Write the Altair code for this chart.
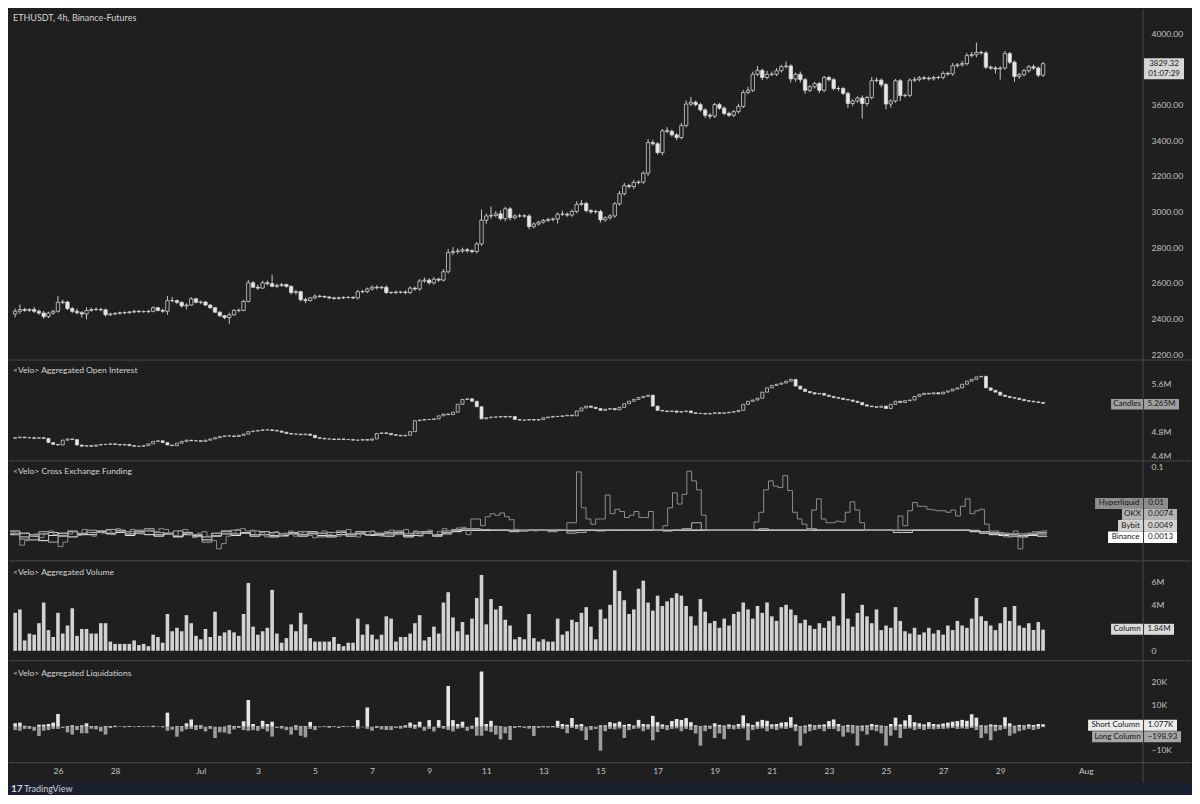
import altair as alt
import pandas as pd

# ---------------- data (4h bars) ----------------
bar_start = "2025-06-24 12:00"

price_first_open = 2425
price_close = [
    2440, 2450, 2445, 2450, 2440, 2430, 2410, 2430, 2440, 2490,
    2492, 2455, 2440, 2432, 2425, 2445, 2450, 2450, 2448, 2420,
    2425, 2428, 2432, 2432, 2436, 2440, 2438, 2438, 2440, 2460,
    2445, 2440, 2500, 2500, 2490, 2470, 2475, 2510, 2490, 2492,
    2475, 2460, 2435, 2415, 2405, 2420, 2445, 2445, 2495, 2600,
    2575, 2570, 2600, 2595, 2580, 2585, 2590, 2580, 2545, 2550,
    2505, 2500, 2515, 2525, 2523, 2520, 2515, 2512, 2515, 2518,
    2518, 2515, 2550, 2550, 2565, 2575, 2572, 2575, 2545, 2545,
    2548, 2548, 2545, 2570, 2565, 2610, 2615, 2600, 2620, 2615,
    2662, 2770, 2775, 2778, 2785, 2780, 2775, 2818, 2951, 2975,
    2978, 2987, 2960, 3015, 2965, 2975, 2975, 2975, 2915, 2930,
    2940, 2950, 2955, 2958, 2985, 2985, 2980, 3000, 3040, 3045,
    3005, 2998, 3000, 2953, 2965, 2975, 3043, 3100, 3145, 3140,
    3163, 3165, 3215, 3387, 3380, 3330, 3453, 3450, 3430, 3415,
    3482, 3603, 3613, 3600, 3570, 3540, 3535, 3600, 3580, 3550,
    3540, 3560, 3590, 3668, 3680, 3770, 3792, 3752, 3770, 3770,
    3790, 3813, 3817, 3744, 3770, 3740, 3680, 3700, 3718, 3680,
    3752, 3740, 3690, 3690, 3663, 3606, 3620, 3637, 3606, 3640,
    3734, 3737, 3712, 3603, 3620, 3734, 3650, 3652, 3737, 3740,
    3750, 3748, 3745, 3752, 3752, 3775, 3772, 3818, 3823, 3830,
    3875, 3880, 3893, 3890, 3810, 3805, 3800, 3805, 3886, 3838,
    3758, 3768, 3790, 3812, 3805, 3765, 3829.32,
]
price_wick_up = [
    15, 28, 10, 8, 15, 10, 12, 8, 8, 35,
    13, 6, 10, 16, 10, 17, 10, 12, 10, 7,
    7, 7, 6, 8, 6, 8, 6, 6, 8, 8,
    5, 10, 25, 20, 5, 5, 10, 10, 5, 8,
    6, 5, 5, 5, 5, 12, 7, 10, 10, 15,
    10, 15, 12, 13, 50, 10, 10, 5, 5, 10,
    5, 12, 5, 10, 8, 6, 6, 6, 8, 6,
    6, 6, 10, 10, 8, 10, 12, 8, 10, 6,
    8, 6, 10, 10, 8, 12, 15, 10, 12, 8,
    15, 20, 25, 15, 12, 10, 8, 10, 60, 15,
    50, 15, 20, 12, 10, 10, 12, 10, 10, 8,
    8, 8, 10, 8, 10, 20, 10, 12, 18, 20,
    10, 8, 10, 10, 8, 10, 10, 15, 15, 10,
    15, 10, 10, 20, 15, 10, 10, 20, 10, 10,
    15, 20, 30, 10, 10, 10, 12, 10, 10, 10,
    10, 10, 15, 15, 20, 15, 25, 10, 20, 15,
    15, 10, 25, 10, 10, 15, 10, 10, 10, 10,
    10, 10, 10, 12, 10, 10, 10, 10, 15, 10,
    20, 15, 10, 10, 10, 10, 10, 10, 10, 15,
    10, 10, 10, 10, 10, 12, 10, 15, 10, 15,
    15, 15, 55, 10, 10, 10, 10, 10, 15, 10,
    10, 10, 10, 10, 12, 10, 10,
]
price_wick_down = [
    20, 15, 8, 8, 10, 10, 12, 8, 10, 8,
    10, 8, 10, 10, 20, 30, 8, 8, 8, 10,
    6, 6, 6, 8, 6, 6, 6, 6, 8, 6,
    6, 8, 20, 10, 10, 10, 20, 5, 5, 10,
    5, 5, 5, 7, 10, 35, 5, 10, 5, 5,
    5, 10, 5, 10, 5, 10, 8, 8, 10, 12,
    10, 15, 5, 6, 6, 6, 6, 6, 6, 6,
    6, 6, 8, 8, 8, 8, 10, 8, 8, 8,
    8, 8, 10, 8, 10, 10, 10, 10, 10, 10,
    8, 10, 15, 12, 10, 12, 10, 10, 10, 20,
    15, 10, 10, 15, 15, 10, 10, 10, 15, 10,
    8, 8, 8, 10, 25, 10, 10, 10, 10, 10,
    10, 10, 10, 15, 10, 10, 10, 10, 10, 10,
    15, 10, 10, 15, 10, 10, 15, 10, 10, 15,
    10, 10, 10, 10, 10, 15, 15, 10, 10, 10,
    10, 10, 10, 10, 10, 10, 10, 15, 10, 10,
    10, 10, 10, 20, 15, 15, 20, 10, 10, 15,
    10, 10, 10, 15, 10, 25, 15, 10, 85, 15,
    10, 10, 15, 30, 20, 10, 30, 10, 10, 10,
    10, 10, 10, 10, 10, 10, 10, 10, 10, 10,
    10, 10, 15, 10, 10, 10, 25, 60, 10, 10,
    30, 15, 10, 10, 10, 10, 10,
]

oi_first_open = 4.69
oi_close = [
    4.70, 4.71, 4.70, 4.70, 4.69, 4.70, 4.69, 4.62, 4.59, 4.58,
    4.66, 4.68, 4.67, 4.58, 4.56, 4.57, 4.56, 4.58, 4.59, 4.59,
    4.60, 4.59, 4.58, 4.59, 4.57, 4.56, 4.56, 4.57, 4.60, 4.64,
    4.65, 4.62, 4.58, 4.57, 4.61, 4.64, 4.66, 4.65, 4.65, 4.64,
    4.66, 4.68, 4.70, 4.72, 4.73, 4.73, 4.72, 4.74, 4.76, 4.80,
    4.81, 4.82, 4.83, 4.83, 4.82, 4.81, 4.79, 4.77, 4.76, 4.76,
    4.75, 4.76, 4.74, 4.70, 4.69, 4.68, 4.68, 4.67, 4.68, 4.67,
    4.67, 4.66, 4.66, 4.67, 4.66, 4.68, 4.77, 4.78, 4.77, 4.75,
    4.74, 4.73, 4.74, 4.80, 4.98, 4.99, 5.00, 5.00, 5.01, 5.06,
    5.09, 5.08, 5.12, 5.25, 5.33, 5.34, 5.30, 5.21, 5.01, 5.03,
    5.04, 5.04, 5.05, 5.04, 5.05, 5.00, 4.99, 4.99, 5.00, 4.99,
    5.00, 5.03, 5.04, 5.05, 5.05, 5.06, 5.07, 5.06, 5.14, 5.19,
    5.22, 5.20, 5.18, 5.15, 5.17, 5.18, 5.16, 5.20, 5.26, 5.30,
    5.33, 5.36, 5.38, 5.40, 5.22, 5.15, 5.14, 5.13, 5.14, 5.12,
    5.13, 5.14, 5.11, 5.10, 5.10, 5.09, 5.10, 5.11, 5.10, 5.11,
    5.12, 5.13, 5.15, 5.25, 5.30, 5.32, 5.35, 5.45, 5.52, 5.56,
    5.58, 5.60, 5.63, 5.66, 5.55, 5.50, 5.46, 5.44, 5.42, 5.43,
    5.40, 5.38, 5.36, 5.35, 5.33, 5.32, 5.30, 5.28, 5.24, 5.22,
    5.21, 5.20, 5.22, 5.18, 5.25, 5.30, 5.28, 5.31, 5.32, 5.38,
    5.41, 5.43, 5.42, 5.44, 5.42, 5.45, 5.47, 5.50, 5.52, 5.58,
    5.63, 5.66, 5.70, 5.71, 5.52, 5.48, 5.45, 5.40, 5.38, 5.36,
    5.35, 5.33, 5.31, 5.30, 5.29, 5.28, 5.265,
]

volume_m = [
    3.3, 3.6, 0.9, 1.5, 1.4, 2.4, 4.2, 1.8, 1.2, 3.3,
    1.5, 2.2, 3.7, 1.3, 1.9, 1.9, 1.5, 1.5, 2.4, 2.4,
    0.8, 0.6, 0.6, 0.6, 0.6, 0.9, 0.5, 0.6, 0.4, 1.4,
    1.2, 0.7, 3.2, 1.7, 2.0, 1.7, 3.1, 2.4, 1.3, 1.0,
    1.9, 1.2, 3.4, 1.3, 1.6, 1.8, 1.6, 1.3, 3.2, 5.9,
    2.1, 1.4, 1.7, 2.0, 5.3, 1.5, 0.7, 1.1, 2.3, 1.7,
    3.3, 2.3, 1.1, 0.8, 0.8, 0.8, 0.8, 1.2, 0.6, 0.4,
    0.7, 0.7, 2.8, 1.4, 2.3, 1.4, 1.0, 1.4, 3.0, 2.8,
    0.8, 1.2, 1.2, 1.5, 2.4, 3.1, 0.9, 1.2, 2.1, 1.5,
    4.2, 5.1, 2.9, 1.7, 2.5, 1.4, 2.8, 4.6, 6.6, 2.3,
    4.5, 3.6, 3.9, 2.7, 2.2, 1.0, 1.2, 1.0, 3.2, 1.1,
    0.8, 1.0, 0.8, 0.8, 2.8, 1.4, 1.7, 2.7, 2.5, 3.3,
    3.8, 2.1, 1.0, 3.6, 2.8, 4.0, 7.0, 5.2, 4.4, 3.2,
    3.6, 5.4, 6.1, 4.2, 3.5, 4.8, 3.9, 4.3, 4.6, 5.0,
    4.8, 3.9, 3.0, 2.2, 4.5, 3.4, 2.4, 2.6, 2.0, 2.8,
    2.2, 3.2, 3.4, 4.2, 3.6, 2.8, 3.9, 3.3, 4.2, 3.0,
    2.6, 3.8, 4.0, 3.6, 3.1, 2.4, 2.7, 2.2, 1.9, 2.4,
    2.0, 2.6, 3.0, 2.2, 5.0, 2.8, 2.1, 3.3, 4.0, 3.0,
    2.4, 3.6, 1.8, 2.2, 2.0, 3.8, 2.6, 1.7, 1.5, 2.0,
    1.4, 1.6, 2.0, 1.5, 1.8, 1.4, 2.2, 1.8, 2.6, 2.2,
    2.0, 2.8, 4.6, 3.0, 2.6, 2.2, 1.8, 2.4, 3.8, 2.6,
    3.9, 2.2, 2.0, 2.4, 1.8, 2.5, 1.84,
]

liq_short_k = [
    1.5, 1.8, 0.4, 0.3, 0.0, 0.9, 0.9, 1.2, 1.8, 5.6,
    0.0, 0.3, 0.6, 0.3, 0.6, 1.5, 0.3, 0.3, 0.0, 0.3,
    0.3, 0.4, 0.1, 0.2, 0.3, 0.1, 0.3, 0.2, 0.1, 0.4,
    0.1, 0.2, 6.2, 0.0, 0.3, 0.3, 1.5, 3.2, 0.6, 0.6,
    0.0, 0.3, 0.0, 0.0, 0.1, 0.6, 0.3, 0.3, 2.4, 11.8,
    1.2, 0.3, 2.6, 1.2, 2.2, 0.0, 0.3, 0.0, 0.0, 0.6,
    0.3, 0.3, 2.1, 0.3, 0.1, 0.2, 0.3, 0.2, 0.1, 0.3,
    0.1, 0.3, 2.9, 0.0, 8.5, 0.0, 0.3, 0.2, 0.3, 0.2,
    0.1, 0.3, 0.6, 1.8, 0.9, 2.2, 0.0, 2.9, 0.0, 2.9,
    0.3, 18.0, 2.9, 1.2, 2.2, 0.0, 0.4, 4.1, 24.4, 1.2,
    2.6, 0.4, 0.3, 0.0, 0.3, 0.2, 0.3, 0.1, 0.3, 0.3,
    0.2, 0.3, 0.2, 0.3, 2.6, 1.2, 0.9, 3.8, 0.9, 1.2,
    0.0, 0.3, 0.0, 0.6, 0.6, 2.0, 1.5, 2.2, 0.8, 1.2,
    0.5, 3.0, 1.2, 1.0, 4.8, 2.0, 1.0, 0.6, 2.5, 3.4,
    3.0, 3.8, 2.0, 0.6, 0.3, 0.5, 0.4, 1.5, 0.8, 0.5,
    1.0, 0.6, 1.2, 5.0, 1.5, 0.8, 2.2, 3.0, 2.6, 1.0,
    1.2, 1.8, 2.0, 4.2, 1.0, 0.3, 0.5, 1.0, 0.6, 0.8,
    1.0, 2.5, 3.2, 1.2, 0.4, 0.8, 0.6, 0.4, 0.5, 0.6,
    1.2, 0.8, 0.5, 0.3, 1.2, 4.0, 1.0, 2.8, 5.2, 2.0,
    1.5, 1.0, 2.0, 1.2, 1.0, 1.4, 1.8, 2.2, 2.5, 3.0,
    2.6, 5.5, 4.0, 0.6, 0.5, 1.0, 0.8, 0.6, 4.2, 1.5,
    0.4, 0.8, 0.6, 1.0, 0.8, 1.2, 1.077,
]
liq_long_k = [
    -1.5, -1.8, -1.0, -1.0, -1.8, -4.1, -1.8, -1.5, -1.0, -1.0,
    -0.6, -2.5, -3.5, -1.5, -2.9, -2.9, -0.9, -1.2, -2.1, -3.5,
    -0.6, -0.2, -0.1, -0.3, -0.1, -0.2, -0.1, -0.1, -0.2, -0.2,
    -0.1, -0.3, -1.8, -1.3, -4.4, -2.1, -1.2, -1.0, -1.5, -1.0,
    -2.1, -1.0, -5.0, -2.5, -2.6, -3.2, -1.2, -0.6, -1.5, -1.8,
    -1.5, -1.8, -1.0, -2.1, -4.4, -0.6, -0.9, -1.5, -3.5, -1.5,
    -4.0, -4.7, -1.0, -1.5, -0.3, -0.2, -0.5, -0.2, -0.6, -0.1,
    -0.2, -0.1, -0.9, -0.3, -1.0, -1.8, -0.6, -1.2, -1.5, -1.5,
    -0.6, -0.9, -0.5, -0.6, -1.0, -0.4, -1.8, -1.0, -2.1, -0.6,
    -0.9, -1.5, -2.1, -0.9, -0.6, -1.8, -1.0, -4.0, -4.0, -1.8,
    -2.4, -3.5, -5.6, -2.9, -5.9, -0.6, -0.3, -0.6, -0.9, -4.1,
    -0.6, -0.3, -0.4, -0.3, -0.6, -1.0, -2.9, -0.6, -1.0, -1.8,
    -5.9, -1.5, -1.0, -10.6, -2.0, -1.0, -1.2, -0.8, -5.0, -1.5,
    -1.0, -0.8, -2.0, -1.2, -6.0, -2.4, -1.0, -1.5, -1.0, -0.8,
    -2.0, -1.0, -1.5, -3.0, -8.4, -2.0, -1.0, -5.0, -3.0, -5.5,
    -1.0, -1.2, -1.0, -0.8, -6.0, -1.5, -1.0, -0.8, -2.0, -1.0,
    -1.5, -0.8, -1.0, -0.6, -2.0, -8.4, -3.0, -2.0, -1.5, -1.0,
    -2.0, -1.0, -1.0, -2.0, -4.4, -2.5, -3.0, -8.4, -2.0, -3.5,
    -1.5, -2.0, -3.0, -8.4, -4.0, -1.5, -5.0, -1.0, -0.8, -1.5,
    -1.0, -1.5, -1.0, -1.2, -1.0, -1.0, -0.8, -0.6, -1.0, -0.8,
    -1.0, -0.6, -1.5, -5.0, -3.0, -6.0, -2.0, -1.5, -1.0, -4.0,
    -3.0, -2.0, -1.5, -1.0, -1.5, -1.0, -0.199,
]

# funding: Hyperliquid every 4h, the others every 8h
funding_hyperliquid = [
    0.008, 0.004, -0.010, -0.004, 0.002, 0.005, 0.000, 0.006, 0.009, 0.004,
    -0.012, -0.006, 0.005, 0.008, 0.003, 0.011, 0.007, 0.002, 0.009, 0.006,
    0.010, 0.004, 0.012, 0.008, 0.006, 0.011, 0.009, 0.005, 0.012, 0.010,
    0.008, 0.012, 0.011, 0.006, 0.003, 0.009, 0.011, 0.004, 0.000, 0.006,
    0.008, 0.002, -0.004, -0.015, -0.008, 0.002, 0.006, 0.011, 0.012, 0.009,
    0.010, 0.004, 0.007, 0.001, 0.005, 0.008, 0.003, 0.006, 0.009, 0.002,
    0.005, 0.008, 0.003, 0.000, 0.006, 0.009, 0.004, 0.007, 0.002, 0.008,
    0.011, 0.005, 0.001, 0.007, 0.003, 0.009, 0.006, 0.002, 0.008, 0.010,
    0.004, 0.008, 0.011, 0.006, 0.009, 0.002, 0.006, 0.010, 0.004, 0.008,
    0.012, 0.006, 0.010, 0.013, 0.014, 0.004, 0.025, 0.025, 0.016, 0.028,
    0.032, 0.030, 0.033, 0.028, 0.024, 0.011, 0.010, 0.010, 0.010, 0.009,
    0.010, 0.010, 0.010, 0.010, 0.011, 0.010, 0.020, 0.020, 0.088, 0.040,
    0.025, 0.018, 0.025, 0.025, 0.057, 0.032, 0.038, 0.035, 0.027, 0.030,
    0.035, 0.027, 0.027, 0.035, 0.010, 0.010, 0.016, 0.040, 0.060, 0.045,
    0.058, 0.089, 0.076, 0.064, 0.030, 0.010, 0.010, 0.010, 0.010, 0.010,
    0.010, 0.010, 0.010, 0.010, 0.010, 0.021, 0.034, 0.064, 0.076, 0.069,
    0.067, 0.083, 0.063, 0.034, 0.025, 0.018, 0.010, 0.037, 0.052, 0.025,
    0.020, 0.020, 0.022, 0.021, 0.034, 0.048, 0.037, 0.020, 0.010, 0.010,
    0.010, 0.010, 0.010, 0.010, 0.010, 0.029, 0.016, 0.036, 0.047, 0.042,
    0.042, 0.038, 0.037, 0.036, 0.036, 0.034, 0.037, 0.029, 0.042, 0.052,
    0.032, 0.036, 0.038, 0.018, 0.009, 0.009, 0.007, 0.001, 0.001, 0.009,
    -0.015, 0.005, 0.005, 0.008, 0.008, 0.009, 0.010,
]
funding_okx = [
    0.006, -0.002, 0.004, 0.008, -0.006, 0.003, 0.009, 0.006, 0.010, 0.007,
    0.011, 0.009, 0.008, 0.010, 0.012, 0.007, 0.005, 0.009, 0.006, 0.004,
    -0.006, 0.003, 0.008, 0.010, 0.006, 0.009, 0.004, 0.007, 0.002, 0.006,
    0.008, 0.005, 0.001, 0.007, 0.009, 0.004, 0.006, 0.008, 0.003, 0.007,
    0.009, 0.005, 0.008, 0.006, 0.003, 0.009, 0.011, 0.012, 0.012, 0.011,
    0.010, 0.010, 0.009, 0.010, 0.010, 0.010, 0.008, 0.010, 0.006, 0.007,
    0.010, 0.009, 0.010, 0.010, 0.010, 0.010, 0.010, 0.010, 0.010, 0.010,
    0.012, 0.020, 0.010, 0.010, 0.010, 0.010, 0.010, 0.010, 0.012, 0.010,
    0.010, 0.010, 0.010, 0.012, 0.010, 0.010, 0.010, 0.010, 0.010, 0.010,
    0.010, 0.010, 0.010, 0.010, 0.010, 0.010, 0.010, 0.010, 0.010, 0.010,
    0.010, 0.008, 0.007, 0.006, 0.004, 0.005, 0.006, 0.007, 0.0074,
]
funding_bybit = [
    0.009, 0.001, -0.003, 0.005, 0.007, 0.002, 0.008, 0.004, 0.007, 0.009,
    0.006, 0.010, 0.005, 0.008, 0.009, 0.004, 0.006, 0.002, 0.007, 0.003,
    0.001, 0.006, 0.009, 0.005, 0.007, 0.004, 0.008, 0.003, 0.005, 0.007,
    0.004, 0.008, 0.006, 0.003, 0.007, 0.005, 0.008, 0.004, 0.006, 0.005,
    0.007, 0.003, 0.006, 0.008, 0.004, 0.007, 0.010, 0.010, 0.010, 0.010,
    0.010, 0.010, 0.008, 0.010, 0.010, 0.010, 0.010, 0.010, 0.009, 0.010,
    0.010, 0.010, 0.010, 0.010, 0.010, 0.010, 0.010, 0.010, 0.010, 0.010,
    0.010, 0.010, 0.010, 0.010, 0.010, 0.010, 0.010, 0.010, 0.010, 0.010,
    0.010, 0.010, 0.010, 0.010, 0.010, 0.010, 0.010, 0.010, 0.010, 0.010,
    0.010, 0.010, 0.007, 0.007, 0.010, 0.010, 0.010, 0.010, 0.010, 0.010,
    0.009, 0.008, 0.006, 0.004, 0.005, 0.003, 0.004, 0.005, 0.0049,
]
funding_binance = [
    0.004, 0.006, 0.002, -0.004, 0.003, 0.006, 0.001, 0.005, 0.004, 0.008,
    0.005, 0.007, 0.003, 0.006, 0.004, 0.002, 0.005, 0.001, 0.004, 0.002,
    -0.003, 0.002, 0.005, 0.003, 0.006, 0.002, 0.004, 0.001, 0.003, 0.005,
    0.002, 0.006, 0.003, 0.001, 0.004, 0.002, 0.005, 0.003, 0.004, 0.002,
    0.005, 0.001, 0.003, 0.006, 0.002, 0.005, 0.008, 0.010, 0.010, 0.010,
    0.010, 0.010, 0.010, 0.009, 0.010, 0.010, 0.010, 0.010, 0.010, 0.010,
    0.010, 0.010, 0.010, 0.010, 0.010, 0.010, 0.010, 0.010, 0.009, 0.010,
    0.010, 0.010, 0.010, 0.010, 0.010, 0.010, 0.010, 0.010, 0.010, 0.010,
    0.010, 0.010, 0.010, 0.010, 0.010, 0.010, 0.010, 0.010, 0.010, 0.010,
    0.010, 0.010, 0.010, 0.010, 0.010, 0.010, 0.010, 0.010, 0.010, 0.010,
    0.008, 0.006, 0.004, 0.003, 0.002, 0.001, 0.003, 0.002, 0.0013,
]

date_ticks = ["2025-06-26", "2025-06-28", "2025-07-01", "2025-07-03", "2025-07-05",
              "2025-07-07", "2025-07-09", "2025-07-11", "2025-07-13", "2025-07-15",
              "2025-07-17", "2025-07-19", "2025-07-21", "2025-07-23", "2025-07-25",
              "2025-07-27", "2025-07-29", "2025-08-01"]
# axis labels that are visible in the reference (others sit under the value badges)
price_ticks = [2200, 2400, 2600, 2800, 3000, 3200, 3400, 3600, 4000]
oi_ticks = [4.4, 4.8, 5.6]
funding_ticks = [0.1]
volume_ticks = [0, 4, 6]
liq_ticks = [-10, 10, 20]

# ---------------- frames ----------------
n = len(price_close)
times = pd.date_range(bar_start, periods=n, freq="4h")
ts = list(times.strftime("%Y-%m-%dT%H:%M:%S"))
p_open = [price_first_open] + price_close[:-1]
p_high = [max(o, c) + u for o, c, u in zip(p_open, price_close, price_wick_up)]
p_low = [min(o, c) - d for o, c, d in zip(p_open, price_close, price_wick_down)]
oi_open = [oi_first_open] + oi_close[:-1]

df = pd.DataFrame({
    "t": ts, "open": p_open, "close": price_close, "high": p_high, "low": p_low,
    "oi_open": oi_open, "oi_close": oi_close,
    "vol": volume_m, "short": liq_short_k, "long": liq_long_k,
})

t8 = list(pd.date_range(bar_start, periods=len(funding_okx), freq="8h").strftime("%Y-%m-%dT%H:%M:%S"))
fund = pd.concat([
    pd.DataFrame({"t": ts, "v": funding_hyperliquid, "ex": "Hyperliquid"}),
    pd.DataFrame({"t": t8, "v": funding_okx, "ex": "OKX"}),
    pd.DataFrame({"t": t8, "v": funding_bybit, "ex": "Bybit"}),
    pd.DataFrame({"t": t8, "v": funding_binance, "ex": "Binance"}),
], ignore_index=True)

# ---------------- style ----------------
W = 1183
AXX = 1135
BG = "#1f1f1f"
NAVY = "#1b2030"
LINE = "#4a4a4a"
TXT = "#d4d4d4"
AXC = "#c2c2c2"
BTXT = "#151515"
FONT = "Lato"
UP_STROKE = "#d2d2d2"
DOWN_FILL = "#e8e8e8"
WICK = "#c6c6c6"

XD = [alt.DateTime(year=2025, month=6, date=24, hours=11, minutes=2),
      alt.DateTime(year=2025, month=8, date=4, hours=12, minutes=10)]


def X(axis=None):
    return alt.X("t:T", scale=alt.Scale(domain=XD), axis=axis)


def yaxis(values, fmt=None, expr=None, baseline="middle"):
    kw = dict(orient="right", offset=AXX - W, values=values, grid=False, ticks=False,
              domain=False, labelPadding=8, labelColor=AXC, labelFont=FONT,
              labelFontSize=8.5, labelAlign="left", labelBaseline=baseline,
              title=None, labelOverlap=False)
    if fmt:
        kw["format"] = fmt
    if expr:
        kw["labelExpr"] = expr
    return alt.Axis(**kw)


ONE = pd.DataFrame({"k": [0]})


def txt(s, x, y, size=8.5, color=TXT, align="left", weight="normal"):
    return alt.Chart(pd.DataFrame({"s": [s]})).mark_text(
        align=align, baseline="middle", font=FONT, fontSize=size, color=color,
        fontWeight=weight).encode(x=alt.value(x), y=alt.value(y), text="s:N")


def rect(x1, x2, y1, y2, fill):
    return alt.Chart(ONE).mark_rect(fill=fill).encode(
        x=alt.value(x1), x2=alt.value(x2), y=alt.value(y1), y2=alt.value(y2))


def hline(y):
    return alt.Chart(ONE).mark_rule(color=LINE, strokeWidth=1).encode(
        x=alt.value(0), x2=alt.value(W), y=alt.value(y))


def vline(y1, y2):
    return alt.Chart(ONE).mark_rule(color=LINE, strokeWidth=1).encode(
        x=alt.value(AXX), y=alt.value(y1), y2=alt.value(y2))


def badge(label, value, xl, xr, y1, y2, fill):
    ym = (y1 + y2) / 2
    return [rect(xl, AXX, y1, y2, fill), rect(AXX + 1, xr, y1, y2, fill),
            txt(label, (xl + AXX) / 2, ym, color=BTXT, align="center", size=8),
            txt(value, (AXX + 1 + xr) / 2, ym, color=BTXT, align="center", size=8)]


# ---------------- price panel ----------------
H1 = 351
ps = alt.Scale(domain=[2166.4, 4134.6], nice=False, zero=False)
pax = yaxis(price_ticks, fmt=".2f")
base = alt.Chart(df)
p_wick = base.mark_rule(color=WICK, strokeWidth=1).encode(
    x=X(), y=alt.Y("low:Q", scale=ps, axis=pax), y2="high:Q")
p_body = base.mark_bar(size=3.4, stroke=UP_STROKE, strokeWidth=0.8).encode(
    x=X(), y=alt.Y("open:Q", scale=ps, axis=pax), y2="close:Q",
    fill=alt.condition("datum.close >= datum.open", alt.value(BG), alt.value(DOWN_FILL)))
price_panel = alt.layer(
    vline(0, H1), p_wick, p_body,
    txt("ETHUSDT, 4h, Binance-Futures", 4, 9, size=9),
    rect(AXX + 1, 1176, 49, 70, "#d6d6d6"),
    txt("3829.32", 1156, 54.5, color=BTXT, align="center", size=8),
    txt("01:07:29", 1156, 64.5, color=BTXT, align="center", size=8),
).properties(width=W, height=H1)

# ---------------- open interest ----------------
H2 = 101
oscale = alt.Scale(domain=[4.318, 5.978], nice=False, zero=False)
oax = yaxis(oi_ticks, expr="datum.value + 'M'")
oi_body = base.mark_bar(size=3.0, stroke=UP_STROKE, strokeWidth=0.8).encode(
    x=X(), y=alt.Y("oi_open:Q", scale=oscale, axis=oax), y2="oi_close:Q",
    fill=alt.condition("datum.oi_close >= datum.oi_open", alt.value(BG), alt.value(DOWN_FILL)))
oi_panel = alt.layer(
    hline(0), vline(0, H2), oi_body,
    txt("<Velo> Aggregated Open Interest", 4, 10),
    *badge("Candles", "5.265M", 1103, 1171, 39, 49.5, "#a0a0a0"),
).properties(width=W, height=H2)

# ---------------- funding ----------------
H3 = 100
fscale = alt.Scale(domain=[-0.03105, 0.10267], nice=False, zero=False)
fax = yaxis(funding_ticks, expr="datum.value + ''", baseline="top")
# drawn bottom to top: the grey lines lie over the white ones at the 0.01 baseline
fund_colors = {"Binance": "#f4f4f4", "Bybit": "#d6d6d6", "OKX": "#b0b0b0", "Hyperliquid": "#8e8e8e"}
fund_layers = []
for ex, col in fund_colors.items():
    fund_layers.append(
        alt.Chart(fund).transform_filter(alt.datum.ex == ex).mark_line(
            interpolate="step-after", strokeWidth=1, color=col).encode(
            x=X(), y=alt.Y("v:Q", scale=fscale, axis=fax)))
fund_panel = alt.layer(
    hline(0), vline(0, H3), *fund_layers,
    txt("<Velo> Cross Exchange Funding", 4, 10),
    *badge("Hyperliquid", "0.01", 1087, 1160, 37, 48, "#8e8e8e"),
    *badge("OKX", "0.0074", 1114, 1169, 48, 59, "#b4b4b4"),
    *badge("Bybit", "0.0049", 1110, 1169, 59, 70.5, "#d2d2d2"),
    *badge("Binance", "0.0013", 1100, 1169, 70.5, 82, "#ffffff"),
).properties(width=W, height=H3)

# ---------------- volume ----------------
H4 = 100
vscale = alt.Scale(domain=[-0.870, 7.826], nice=False, zero=False)
vax = yaxis(volume_ticks, expr="datum.value == 0 ? '0' : datum.value + 'M'")
vol_bars = base.mark_bar(size=3.6, color="#d2d2d2").encode(
    x=X(), y=alt.Y("vol:Q", scale=vscale, axis=vax))
vol_panel = alt.layer(
    hline(0), vline(0, H4), vol_bars,
    txt("<Velo> Aggregated Volume", 4, 11),
    *badge("Column", "1.84M", 1103, 1166, 63, 74, "#dadada"),
).properties(width=W, height=H4)

# ---------------- liquidations + date axis ----------------
H5 = 134
PLOT5 = 102
lscale = alt.Scale(domain=[-15.92, 29.14], range=[PLOT5, 0], nice=False, zero=False)
lax = yaxis(liq_ticks, expr="datum.value < 0 ? '\u2212' + abs(datum.value) + 'K' : datum.value + 'K'")
date_axis = alt.Axis(
    orient="bottom", offset=PLOT5 - H5,
    values=[alt.DateTime(year=int(d[:4]), month=int(d[5:7]), date=int(d[8:])) for d in date_ticks],
    labelExpr="date(datum.value) == 1 ? timeFormat(datum.value, '%b') : timeFormat(datum.value, '%-d')",
    grid=False, ticks=False, domain=False, labelPadding=4, labelColor=AXC, labelFont=FONT,
    labelFontSize=8.5, title=None, labelOverlap=False, labelFlush=False)
liq_short = base.mark_bar(size=3.6, color="#e6e6e6").encode(
    x=X(date_axis), y=alt.Y("short:Q", scale=lscale, axis=lax))
liq_long = base.mark_bar(size=3.6, color="#9c9c9c").encode(
    x=X(date_axis), y=alt.Y("long:Q", scale=lscale, axis=lax))
liq_panel = alt.layer(
    rect(0, W, 122, H5, NAVY),
    hline(0), hline(PLOT5), vline(0, 122), liq_long, liq_short,
    txt("<Velo> Aggregated Liquidations", 4, 12),
    *badge("Short Column", "1.077K", 1080, 1169, 59, 70, "#ececec"),
    *badge("Long Column", "\u2212198.93", 1084, 1173, 70.5, 81.5, "#a6a6a6"),
    txt("17", 2, 128, size=10, color="#d8d8d8", weight="bold"),
    txt("TradingView", 15, 128, size=9, color="#d0d0d0"),
).properties(width=W, height=H5)

chart = alt.vconcat(
    price_panel, oi_panel, fund_panel, vol_panel, liq_panel,
    spacing=0, bounds="flush",
).properties(padding=0).configure(background=BG).configure_view(stroke=None)

chart.save("out.html", embed_options={"renderer": "svg", "actions": False})
